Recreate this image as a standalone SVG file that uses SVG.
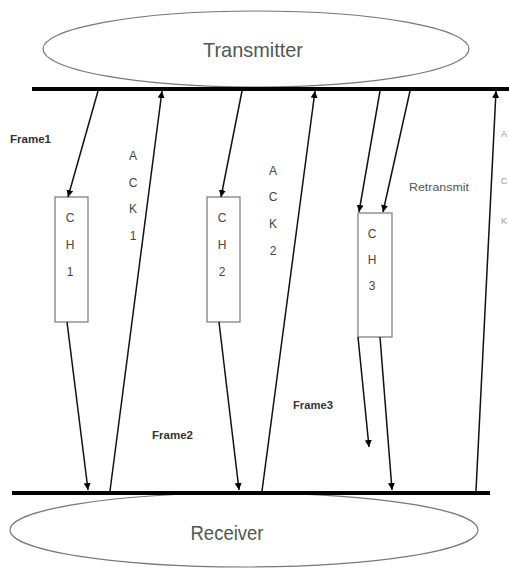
<svg xmlns="http://www.w3.org/2000/svg" width="509" height="568" viewBox="0 0 509 568">
<style>
.ell{fill:#fff;stroke:#777;stroke-width:1.2}
.bar{stroke:#000;stroke-width:4}
.ln{stroke:#111;stroke-width:1.5;fill:none}
.box{fill:#fff;stroke:#777;stroke-width:1.2}
.big{font-family:"Liberation Sans",Arial,sans-serif;font-size:21px;fill:#555}
.lt{font-family:"Liberation Sans",Arial,sans-serif;font-size:12px;fill:#444;text-anchor:middle}
.sm{font-family:"Liberation Sans",Arial,sans-serif;font-size:10px;font-weight:bold;fill:#333}
.rt{font-family:"Liberation Sans",Arial,sans-serif;font-size:11px;font-weight:normal;fill:#555}
.edge{font-family:"Liberation Sans",Arial,sans-serif;font-size:9px;fill:#999;text-anchor:middle}
</style>
<defs>
<marker id="ah" markerWidth="8" markerHeight="8" refX="7" refY="3.5" orient="auto" markerUnits="userSpaceOnUse">
<path d="M0,0 L7,3.5 L0,7 Z" fill="#000"/>
</marker>
</defs>
<g id="transmitter">
<ellipse class="ell" cx="256" cy="49" rx="213" ry="38"/>
<text class="big" x="253" y="57" text-anchor="middle" textLength="100" lengthAdjust="spacingAndGlyphs">Transmitter</text>
</g>
<g id="receiver">
<ellipse class="ell" cx="244" cy="530" rx="234" ry="37"/>
<text class="big" x="227" y="540" text-anchor="middle" textLength="73" lengthAdjust="spacingAndGlyphs">Receiver</text>
</g>
<g id="buses">
<line class="bar" x1="32" y1="89" x2="509" y2="89"/>
<line class="bar" x1="12" y1="493" x2="490" y2="493"/>
</g>
<g id="ch1">
<rect class="box" x="55" y="197" width="33" height="125"/>
<text class="lt" x="70" y="222">C</text>
<text class="lt" x="70" y="249">H</text>
<text class="lt" x="70" y="276">1</text>
</g>
<g id="ch2">
<rect class="box" x="207" y="197" width="33" height="125"/>
<text class="lt" x="222" y="222">C</text>
<text class="lt" x="222" y="249">H</text>
<text class="lt" x="222" y="276">2</text>
</g>
<g id="ch3">
<rect class="box" x="358" y="213" width="34" height="124"/>
<text class="lt" x="372" y="238">C</text>
<text class="lt" x="372" y="264">H</text>
<text class="lt" x="372" y="290">3</text>
</g>
<g id="connectors">
<line class="ln" x1="98" y1="91" x2="68" y2="197" marker-end="url(#ah)"/>
<line class="ln" x1="67" y1="322" x2="88" y2="490" marker-end="url(#ah)"/>
<line class="ln" x1="110" y1="491" x2="162" y2="91" marker-end="url(#ah)"/>
<line class="ln" x1="242" y1="91" x2="221" y2="197" marker-end="url(#ah)"/>
<line class="ln" x1="219" y1="322" x2="239" y2="490" marker-end="url(#ah)"/>
<line class="ln" x1="262" y1="491" x2="315" y2="91" marker-end="url(#ah)"/>
<line class="ln" x1="380" y1="91" x2="359" y2="212" marker-end="url(#ah)"/>
<line class="ln" x1="410" y1="91" x2="383" y2="212" marker-end="url(#ah)"/>
<line class="ln" x1="358" y1="337" x2="369" y2="447" marker-end="url(#ah)"/>
<line class="ln" x1="380" y1="337" x2="392" y2="490" marker-end="url(#ah)"/>
<line class="ln" x1="476" y1="491" x2="496" y2="91" marker-end="url(#ah)"/>
</g>
<g id="labels">
<text class="sm" x="10" y="143" textLength="41" lengthAdjust="spacingAndGlyphs">Frame1</text>
<text class="sm" x="152" y="439" textLength="41" lengthAdjust="spacingAndGlyphs">Frame2</text>
<text class="sm" x="293" y="409" textLength="40" lengthAdjust="spacingAndGlyphs">Frame3</text>
<text class="rt" x="409" y="191" textLength="60" lengthAdjust="spacingAndGlyphs">Retransmit</text>
<text class="lt" x="133" y="160">A</text>
<text class="lt" x="133" y="187">C</text>
<text class="lt" x="133" y="213">K</text>
<text class="lt" x="133" y="240">1</text>
<text class="lt" x="273" y="175">A</text>
<text class="lt" x="273" y="201">C</text>
<text class="lt" x="273" y="228">K</text>
<text class="lt" x="273" y="255">2</text>
<text class="edge" x="504" y="137">A</text>
<text class="edge" x="504" y="184">C</text>
<text class="edge" x="504" y="224">K</text>
</g>
</svg>
